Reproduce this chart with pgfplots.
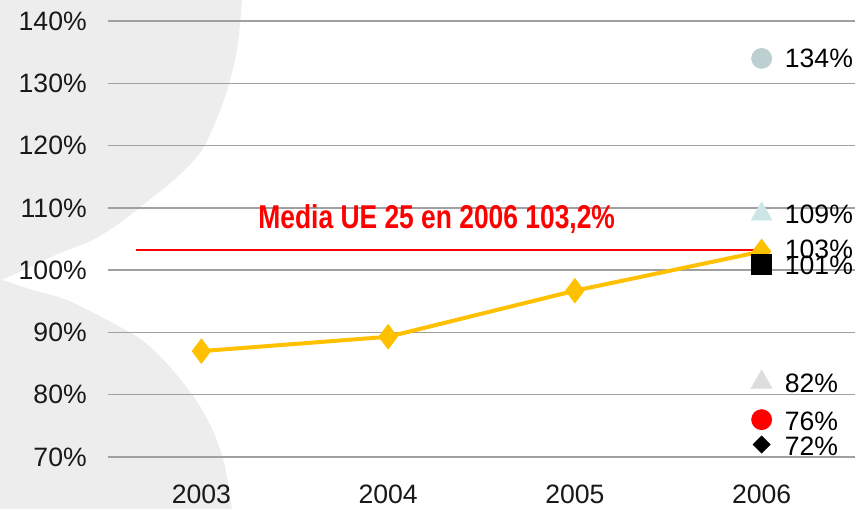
\documentclass[border=0pt]{standalone}
\usepackage{fontspec}
\setmainfont{Liberation Sans}
\usepackage{pgfplots}
\pgfplotsset{compat=1.18}
\definecolor{bggray}{RGB}{237,237,237}
\definecolor{gridgray}{RGB}{160,160,160}
\definecolor{gold}{RGB}{255,192,0}
\definecolor{c134}{RGB}{190,207,210}
\definecolor{c109}{RGB}{204,230,232}
\definecolor{c82}{RGB}{221,221,221}
\begin{document}
\fontsize{13.3pt}{16pt}\selectfont
\begin{tikzpicture}
\path[use as bounding box] (-54pt,-26pt) rectangle (374pt,228.5pt);
\fill[bggray] (-54pt,228.5pt) -- plot[smooth] coordinates {(67pt,228.5pt) (64.5pt,203.5pt) (58pt,178.5pt) (47pt,153.5pt) (33pt,138.5pt) (20.5pt,128.5pt) (8pt,118.5pt) (-7.5pt,108.5pt) (-24pt,102pt) (-39pt,95pt) (-53pt,88.5pt)}
 -- plot[smooth] coordinates {(-53pt,88.5pt) (-37.5pt,83.5pt) (-20.5pt,78.5pt) (-0.5pt,68.5pt) (17pt,58.5pt) (31pt,45pt) (44pt,28.5pt) (53pt,12pt) (58.5pt,-5pt) (62pt,-26pt)}
 -- (-54pt,-26pt) -- cycle;
\begin{axis}[
  at={(0pt,0pt)}, anchor=south west,
  scale only axis, width=373.5pt, height=218pt,
  xmin=-0.5, xmax=3.5, ymin=70, ymax=140,
  axis line style={draw=none},
  major tick length=0pt,
  ymajorgrids, grid style={gridgray, line width=0.75pt},
  xtick={0,1,2,3}, xticklabels={2003,2004,2005,2006},
  ytick={70,80,...,140},
  yticklabel={\pgfmathprintnumber{\tick}\%},
  /pgf/number format/assume math mode=true,
  tick label style={font=\fontsize{13.3pt}{16pt}\selectfont, black!90},
  xticklabel style={yshift=-9.5pt},
  yticklabel style={xshift=-6pt},
  clip=false,
]
\addplot[red, line width=1.1pt, forget plot] coordinates {(-0.35,103.2) (3,103.2)};
\addplot[gold, line width=2pt, mark=diamond*, mark size=4.8pt, mark options={solid, fill=gold, draw=gold}] coordinates {(0,87) (1,89.3) (2,96.7) (3,103)};
\addplot[only marks, mark=*, mark size=5pt, c134] coordinates {(3,134)};
\addplot[only marks, mark=triangle*, mark size=6pt, c109] coordinates {(3,109)};
\addplot[only marks, mark=square*, mark size=5pt, black] coordinates {(3,101)};
\addplot[only marks, mark=triangle*, mark size=6pt, c82] coordinates {(3,82)};
\addplot[only marks, mark=*, mark size=5pt, red] coordinates {(3,76)};
\addplot[only marks, mark=square*, mark size=3pt, mark options={rotate=45}, black] coordinates {(3,72)};
\node[anchor=west] at (axis cs:3.075,134) {134\%};
\node[anchor=west] at (axis cs:3.075,109) {109\%};
\node[anchor=west] at (axis cs:3.075,103.3) {103\%};
\node[anchor=west] at (axis cs:3.075,100.7) {101\%};
\node[anchor=west] at (axis cs:3.075,81.9) {82\%};
\node[anchor=west] at (axis cs:3.075,75.8) {76\%};
\node[anchor=west] at (axis cs:3.075,71.8) {72\%};
\node[red] at (axis cs:1.26,108.2) {\scalebox{0.8}[1]{\fontsize{16.5pt}{19pt}\selectfont\bfseries Media UE 25 en 2006 103,2\%}};
\end{axis}
\end{tikzpicture}
\end{document}
